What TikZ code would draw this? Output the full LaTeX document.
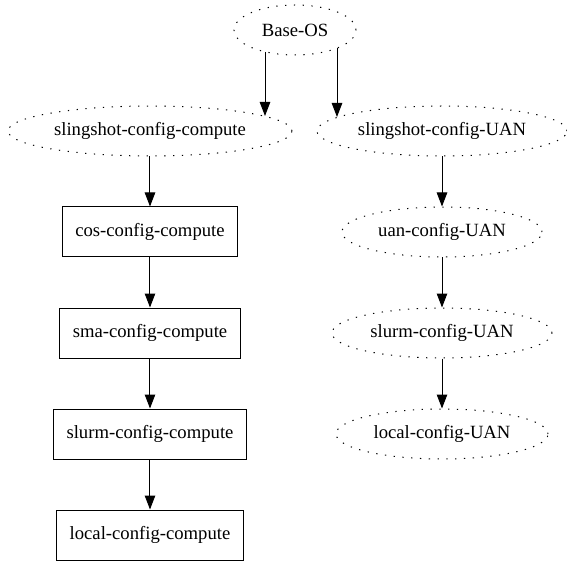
\documentclass[tikz,border=0pt]{standalone}
\usepackage{fontspec}
\setmainfont{Liberation Serif}
\usetikzlibrary{arrows.meta,positioning,shapes.geometric,calc}

\begin{document}
\begin{tikzpicture}[
    myoval/.style={
    ellipse,
    draw=black,
    line width=1pt,
    dash pattern=on 1.3pt off 7.5pt,
    inner sep=0pt,
    minimum height=50pt,
    minimum width=#1,
    font=\fontsize{18.67}{22}\selectfont},
    mybox/.style={
    rectangle,
    draw=black,
    line width=1pt,
    inner xsep=13pt,
    minimum height=50pt,
    font=\fontsize{18.67}{22}\selectfont},
    myarrow/.style={-{Triangle[length=14pt,width=10.5pt]},line width=1pt},
    node distance=50pt and 0pt
    ]
    \useasboundingbox (-295pt,30pt) rectangle (272pt,-531pt);

    \node[myoval=122pt] (base) {Base-OS};
    \node[myoval=284pt, below=of base, xshift=-145pt] (slc) {slingshot-config-compute};
    \node[mybox, below=of slc] (cos) {cos-config-compute};
    \node[mybox, below=of cos] (sma) {sma-config-compute};
    \node[mybox, below=of sma] (slurmc) {slurm-config-compute};
    \node[mybox, below=of slurmc] (localc) {local-config-compute};

    \node[myoval=250pt, below=of base, xshift=147pt] (slu) {slingshot-config-UAN};
    \node[myoval=200pt, below=of slu] (uan) {uan-config-UAN};
    \node[myoval=220pt, below=of uan] (slurmu) {slurm-config-UAN};
    \node[myoval=212pt, below=of slurmu] (localu) {local-config-UAN};

    \draw[myarrow] ($(base.center)+(-30pt,-22pt)$) -- ($(slc.center)+(115pt,15pt)$);
    \draw[myarrow] ($(base.center)+(42pt,-18.5pt)$) -- ($(slu.center)+(-105pt,14pt)$);
    \draw[myarrow] (slc.south) -- (cos.north);
    \draw[myarrow] (cos.south) -- (sma.north);
    \draw[myarrow] (sma.south) -- (slurmc.north);
    \draw[myarrow] (slurmc.south) -- (localc.north);
    \draw[myarrow] (slu.south) -- (uan.north);
    \draw[myarrow] (uan.south) -- (slurmu.north);
    \draw[myarrow] (slurmu.south) -- (localu.north);
\end{tikzpicture}
\end{document}
